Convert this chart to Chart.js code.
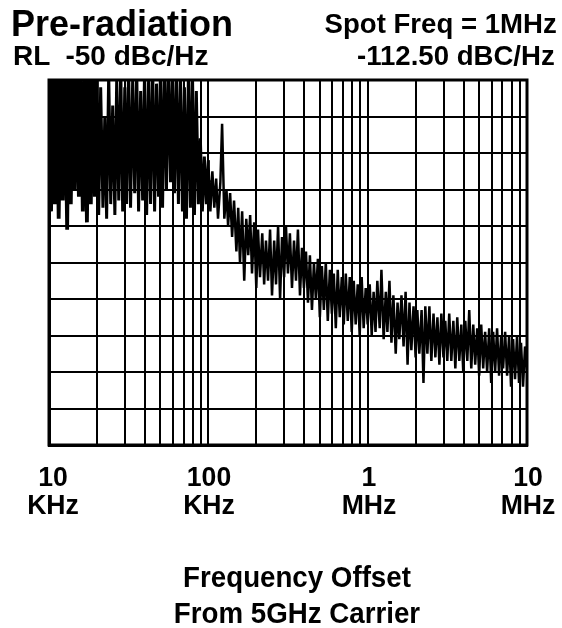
<!DOCTYPE html>
<html>
<head>
<meta charset="utf-8">
<script src="https://cdn.jsdelivr.net/npm/chart.js@4/dist/chart.umd.min.js"></script>
<style>
  html, body { margin: 0; padding: 0; background: #fff; }
  #wrap { position: relative; width: 562px; height: 628px; overflow: hidden; background: #fff; }
  canvas { position: absolute; left: 0; top: 0; }
  .t { position: absolute; font-family: "Liberation Sans", Arial, sans-serif; color: #000; white-space: pre; font-weight: bold; }
  .big { font-size: 36px; line-height: 36px; transform: scaleX(1.0); transform-origin: left top; }
  .med { font-size: 28px; line-height: 28px; }
  .ml { transform: scaleX(1.0); transform-origin: left top; }
  .mr { transform: scaleX(0.985); transform-origin: right top; }
  .tick { width: 100px; text-align: center; font-size: 28px; line-height: 28px; transform: scaleX(0.95); transform-origin: center top; }
  .xt { width: 400px; text-align: center; font-size: 29px; line-height: 36px; transform: scaleX(0.955); transform-origin: center top; }
</style>
</head>
<body>
<div id="wrap">
  <canvas id="c" width="562" height="628"></canvas>
  <div class="t big" style="left:11px; top:6px;">Pre-radiation</div>
  <div class="t med ml" style="left:13px; top:42px;">RL  -50 dBc/Hz</div>
  <div class="t med mr" style="right:5px; top:10px;">Spot Freq = 1MHz</div>
  <div class="t med mr" style="right:7px; top:42px;">-112.50 dBC/Hz</div>
  <div id="ticks"></div>
  <div class="t xt" style="left:97px; top:559px;">Frequency Offset<br>From 5GHz Carrier</div>
</div>
<script>
// ---- data (frequency offsets in kHz, phase noise in dBc/Hz) ----
const traceFreqKHz = [
  10, 10.3, 10.6, 10.9, 11.2, 11.5, 11.9, 12.2, 12.6, 13.0,
  13.3, 13.7, 14.1, 14.5, 15.0, 15.4, 15.8, 16.3, 16.8, 17.3,
  17.8, 18.3, 18.8, 19.4, 20.0, 20.5, 21.1, 21.8, 22.4, 23.0,
  23.7, 24.4, 25.1, 25.9, 26.6, 27.4, 28.2, 29.0, 29.9, 30.7,
  31.6, 32.5, 33.5, 34.5, 35.5, 36.5, 37.6, 38.7, 39.8, 41.0,
  42.2, 43.4, 44.7, 46.0, 47.3, 48.7, 50.1, 51.6, 53.1, 54.6,
  56.2, 57.9, 59.6, 61.3, 63.1, 64.9, 66.8, 68.8, 70.8, 72.9,
  75.0, 77.2, 79.4, 81.8, 84.1, 86.6, 89.1, 91.7, 94.4, 97.2,
  100, 103, 106, 109, 112, 115, 119, 122, 126, 130,
  133, 137, 141, 145, 150, 154, 158, 163, 168, 173,
  178, 183, 188, 194, 200, 205, 211, 218, 224, 230,
  237, 244, 251, 259, 266, 274, 282, 290, 299, 307,
  316, 325, 335, 345, 355, 365, 376, 387, 398, 410,
  422, 434, 447, 460, 473, 487, 501, 516, 531, 546,
  562, 579, 596, 613, 631, 649, 668, 688, 708, 729,
  750, 772, 794, 818, 841, 866, 891, 917, 944, 972,
  1000, 1030, 1060, 1090, 1120, 1150, 1190, 1220, 1260, 1300,
  1330, 1370, 1410, 1450, 1500, 1540, 1580, 1630, 1680, 1730,
  1780, 1830, 1880, 1940, 2000, 2050, 2110, 2180, 2240, 2300,
  2370, 2440, 2510, 2590, 2660, 2740, 2820, 2900, 2990, 3070,
  3160, 3250, 3350, 3450, 3550, 3650, 3760, 3870, 3980, 4100,
  4220, 4340, 4470, 4600, 4730, 4870, 5010, 5160, 5310, 5460,
  5620, 5790, 5960, 6130, 6310, 6490, 6680, 6880, 7080, 7290,
  7500, 7720, 7940, 8180, 8410, 8660, 8910, 9170, 9440, 9720, 10000
];
const traceDb = [
  -46, -86, -48, -84, -47, -88, -45, -83, -49, -91,
  -46, -84, -45, -80, -46, -82, -45, -86, -48, -89,
  -46, -84, -47, -82, -46, -87, -52, -85, -60, -88,
  -48, -84, -57, -87, -50, -83, -46, -86, -52, -84,
  -46, -85, -50, -81, -46, -86, -53, -83, -47, -87,
  -49, -84, -45, -86, -51, -82, -46, -85, -45, -80,
  -46, -78, -45, -81, -49, -84, -47, -86, -52, -88,
  -48, -85, -46, -87, -53, -84, -66, -86, -71, -84,
  -72, -86, -75, -85, -77, -88, -78, -62, -88, -80,
  -90, -81, -93, -83, -97, -85, -100, -86, -105, -88,
  -98, -87, -103, -89, -107, -91, -104, -92, -106, -94,
  -105, -91, -109, -94, -106, -90, -110, -93, -104, -90,
  -103, -92, -107, -94, -105, -91, -109, -96, -107, -97,
  -111, -98, -113, -100, -110, -99, -115, -101, -113, -100,
  -116, -102, -114, -103, -118, -102, -115, -104, -117, -103,
  -116, -104, -119, -105, -117, -106, -120, -104, -118, -107,
  -117, -106, -120, -108, -119, -105, -118, -102, -121, -108,
  -119, -105, -122, -109, -125, -111, -121, -109, -123, -108,
  -128, -111, -124, -112, -126, -113, -125, -113, -133, -112,
  -125, -112, -127, -114, -126, -115, -128, -114, -126, -116,
  -127, -114, -127, -116, -129, -115, -127, -117, -130, -116,
  -127, -113, -129, -117, -128, -118, -131, -117, -129, -119,
  -130, -118, -133, -119, -130, -118, -131, -120, -129, -119,
  -131, -120, -134, -121, -132, -120, -133, -122, -134, -123, -130
];
// averaged (smoothed) trace visible in the close-in region
const smoothFreqKHz = [25, 30, 38, 48, 61, 75, 90, 104];
const smoothDb = [-74, -71, -68.5, -68, -69, -71, -74.5, -78];

// grid / axis
const gridFreqKHz = [10, 20, 30, 40, 50, 60, 70, 80, 90,
  100, 200, 300, 400, 500, 600, 700, 800, 900,
  1000, 2000, 3000, 4000, 5000, 6000, 7000, 8000, 9000, 10000];
const xMinKHz = 10, xMaxKHz = 10000;
const yTopDb = -50, yBottomDb = -150, yStepDb = 10;
const tickLabelFreqKHz = [10, 100, 1000, 10000];
const tickLabelText = [["10", "KHz"], ["100", "KHz"], ["1", "MHz"], ["10", "MHz"]];

const tracePts = traceFreqKHz.map((f, i) => ({ x: f, y: traceDb[i] }));
const smoothPts = smoothFreqKHz.map((f, i) => ({ x: f, y: smoothDb[i] }));

const gridStyle = { color: '#000', lineWidth: 2, drawTicks: false };

const chart = new Chart(document.getElementById('c'), {
  type: 'line',
  data: {
    datasets: [
      {
        data: tracePts, borderColor: '#000', borderWidth: 2.4, pointRadius: 0, tension: 0,
        borderJoinStyle: 'bevel', fill: false,
        segment: {
          borderWidth: (ctx) => ctx.p0.parsed.x < 20 ? 3.8 : (ctx.p0.parsed.x < 100 ? 3.0 : 2.5)
        }
      },
      { data: smoothPts, borderColor: '#111', borderWidth: 1.6, pointRadius: 0, tension: 0.4, fill: false }
    ]
  },
  options: {
    responsive: false,
    animation: false,
    devicePixelRatio: 1,
    layout: { padding: { left: 49, top: 80, right: 35, bottom: 183 } },
    plugins: { legend: { display: false }, tooltip: { enabled: false }, title: { display: false } },
    scales: {
      x: {
        type: 'logarithmic', min: xMinKHz, max: xMaxKHz,
        ticks: { display: false, autoSkip: false },
        grid: gridStyle,
        border: { display: true, color: '#000', width: 3 },
        afterBuildTicks: (s) => { s.ticks = gridFreqKHz.map(v => ({ value: v })); }
      },
      y: {
        type: 'linear', min: yBottomDb, max: yTopDb,
        ticks: { display: false, stepSize: yStepDb },
        grid: gridStyle,
        border: { display: true, color: '#000', width: 3 }
      }
    }
  },
  plugins: [{
    id: 'frame',
    afterDraw(c) {
      const a = c.chartArea, g = c.ctx;
      g.save(); g.strokeStyle = '#000'; g.lineWidth = 3;
      g.strokeRect(a.left, a.top, a.right - a.left, a.bottom - a.top);
      g.restore();
    }
  }]
});

// tick labels placed at the scale's own pixel positions
const xs = chart.scales.x;
const tk = document.getElementById('ticks');
tickLabelFreqKHz.forEach((f, i) => {
  const d = document.createElement('div');
  d.className = 't tick';
  d.style.left = (xs.getPixelForValue(f) - 50 + (i === 0 ? 4 : 1)) + 'px';
  d.style.top = '463px';
  d.innerHTML = tickLabelText[i].join('<br>');
  tk.appendChild(d);
});
</script>
</body>
</html>
